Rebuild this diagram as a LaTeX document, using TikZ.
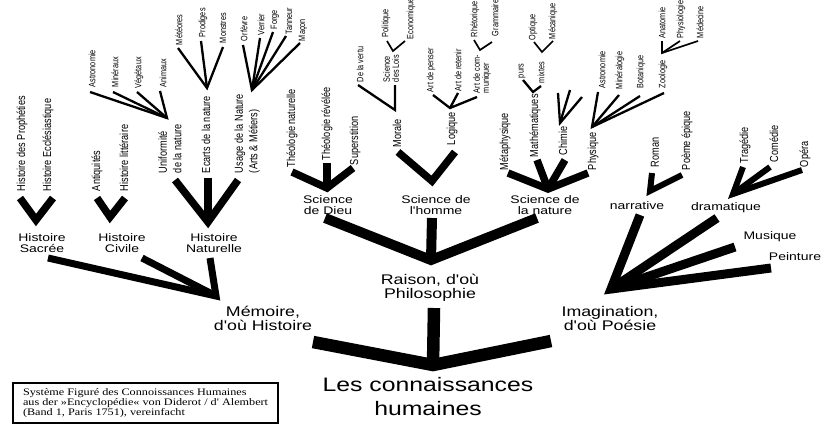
\documentclass[tikz,border=0pt]{standalone}
\usepackage{fontspec}
\setmainfont{Liberation Sans}
\newfontfamily\widesans{Liberation Sans}[FakeStretch=1.27]
\newfontfamily\tallsans{Liberation Sans}[FakeStretch=0.79]
\newfontfamily\wideserif{Liberation Serif}[FakeStretch=1.22]
\begin{document}
\begin{tikzpicture}[x=1pt,y=-1pt,
  every node/.style={inner sep=0pt, outer sep=0pt},
  rootlabel/.style={font=\widesans\fontsize{19.5}{24}\selectfont, align=center},
  facultylabel/.style={font=\widesans\fontsize{14}{14}\selectfont, align=center},
  branchlabel/.style={font=\widesans\fontsize{11}{11}\selectfont, align=center},
  twiglabel/.style={rotate=90, anchor=west, align=left,
    font=\tallsans\fontsize{11.6}{14.5}\selectfont},
  leaflabel/.style={rotate=90, anchor=west, align=left,
    font=\tallsans\fontsize{9.2}{9}\selectfont},
  limb/.style={line width=#1, line join=miter, line cap=butt},
  trunk/.style={limb=12.5pt},
  bough/.style={limb=10pt},
  fanline/.style={limb=9pt},
  histline/.style={limb=7pt},
  forkline/.style={limb=7.5pt},
  artline/.style={limb=6pt},
  twig/.style={limb=2.3pt},
  sprig/.style={limb=1.7pt},
  legendbox/.style={draw, line width=1.3pt, align=left, anchor=north west,
    inner xsep=10pt, minimum height=40pt,
    font=\wideserif\fontsize{10}{10}\selectfont}
]
\useasboundingbox (0,0) rectangle (821,440);
\fill[white] (0,0) rectangle (821,440);

% ---------- root and the three faculties ----------
\node[rootlabel] (root) at (428,397) {Les connaissances\\humaines};
\node[facultylabel] (memoire) at (263,318) {Mémoire,\\d'où Histoire};
\node[facultylabel] (raison) at (430,288) {Raison, d'où\\Philosophie};
\node[facultylabel] (imagination) at (610,318) {Imagination,\\d'où Poésie};

\coordinate (rootTip) at (433,365);
\coordinate (rootL) at (313,342);
\coordinate (rootR) at (551,341);
\coordinate (rootTop) at (434,308);
\draw[trunk] (rootL) -- (rootTip) -- (rootR);
\draw[trunk] (rootTop) -- (rootTip);

% ---------- Mémoire ----------
\node[branchlabel] (hsacree) at (42,243.5) {Histoire\\Sacrée};
\node[branchlabel] (hcivile) at (122,243.5) {Histoire\\Civile};
\node[branchlabel] (hnaturelle) at (214,243.5) {Histoire\\Naturelle};

\coordinate (memTip) at (216,296);
\coordinate (memS) at (48,258);
\coordinate (memC) at (142,258);
\coordinate (memN) at (210,258);
\draw[histline] (memS) -- (memTip) -- (memN);
\draw[histline] (memC) -- (memTip);

% Histoire sacrée
\node[twiglabel] (prophetes) at (22,191) {Histoire des Prophéties};
\node[twiglabel] (ecclesia) at (48,191) {Histoire Ecclésiastique};
\coordinate (sacTip) at (36,220);
\coordinate (sacA) at (20,198);
\coordinate (sacB) at (53,198);
\draw[forkline] (sacA) -- (sacTip) -- (sacB);

% Histoire civile
\node[twiglabel] (antiquites) at (97,191) {Antiquités};
\node[twiglabel] (litteraire) at (124,191) {Histoire littéraire};
\coordinate (civTip) at (110,217);
\coordinate (civA) at (97,198);
\coordinate (civB) at (125,198);
\draw[forkline] (civA) -- (civTip) -- (civB);

% Histoire naturelle
\node[twiglabel] (uniformite) at (170,173) {Uniformité\\de la nature};
\node[twiglabel] (ecarts) at (206,173) {Ecarts de la nature};
\node[twiglabel] (usage) at (247,173) {Usage de la Nature\\(Arts \& Métiers)};
\coordinate (natTip) at (208,222);
\coordinate (natA) at (175,180);
\coordinate (natB) at (208,178);
\coordinate (natC) at (238,180);
\draw[forkline] (natA) -- (natTip) -- (natC);
\draw[forkline] (natB) -- (natTip);

\node[leaflabel] (astroA) at (92,87) {Astronomie};
\node[leaflabel] (mineraux) at (115,87) {Minéraux};
\node[leaflabel] (vegetaux) at (139,88) {Végétaux};
\node[leaflabel] (animaux) at (163,87) {Animaux};
\coordinate (uniTip) at (167,118);
\coordinate (uniA) at (90,92);
\coordinate (uniB) at (113,92);
\coordinate (uniC) at (137,92);
\coordinate (uniD) at (160,91);
\draw[twig] (uniA) -- (uniTip) -- (uniD);
\draw[twig] (uniB) -- (uniTip);
\draw[twig] (uniC) -- (uniTip);

\node[leaflabel] (meteores) at (179,45) {Météores};
\node[leaflabel] (prodiges) at (203,37) {Prodiges};
\node[leaflabel] (monstres) at (223,43) {Monstres};
\coordinate (ecaTip) at (207,88);
\coordinate (ecaA) at (178,48);
\coordinate (ecaB) at (201,41);
\coordinate (ecaC) at (223,47);
\draw[twig] (ecaA) -- (ecaTip) -- (ecaC);
\draw[twig] (ecaB) -- (ecaTip);

\node[leaflabel] (orfevre) at (244,41) {Orfèvre};
\node[leaflabel] (verrier) at (261,35) {Verrier};
\node[leaflabel] (forge) at (275,29) {Forge};
\node[leaflabel] (tanneur) at (289,34) {Tanneur};
\node[leaflabel] (macon) at (303,41) {Maçon};
\coordinate (usaTip) at (252,90);
\coordinate (usaA) at (243,45);
\coordinate (usaB) at (260,38);
\coordinate (usaC) at (273,32);
\coordinate (usaD) at (286,36);
\coordinate (usaE) at (300,43);
\draw[twig] (usaA) -- (usaTip) -- (usaE);
\draw[twig] (usaB) -- (usaTip);
\draw[twig] (usaC) -- (usaTip);
\draw[twig] (usaD) -- (usaTip);

% ---------- Raison ----------
\node[branchlabel] (sdieu) at (328,205.5) {Science\\de Dieu};
\node[branchlabel] (shomme) at (436,205.5) {Science de\\l'homme};
\node[branchlabel] (snature) at (545,205.5) {Science de\\la nature};

\coordinate (raiTip) at (431,260);
\coordinate (raiL) at (325,218);
\coordinate (raiM) at (432,218);
\coordinate (raiR) at (537,218);
\draw[bough] (raiL) -- (raiTip) -- (raiR);
\draw[bough] (raiM) -- (raiTip);

% Science de Dieu
\node[twiglabel] (theonat) at (292,167) {Théologie naturelle};
\node[twiglabel] (theorev) at (327,160) {Théologie révélée};
\node[twiglabel] (superstition) at (355,165) {Superstition};
\coordinate (dieuTip) at (327,188);
\coordinate (dieuA) at (292,172);
\coordinate (dieuB) at (327,163);
\coordinate (dieuC) at (353,168);
\draw[forkline] (dieuA) -- (dieuTip) -- (dieuC);
\draw[forkline] (dieuB) -- (dieuTip);

% Science de l'homme
\node[twiglabel] (morale) at (397,147) {Morale};
\node[twiglabel] (logique) at (452,145) {Logique};
\coordinate (homTip) at (432,181);
\coordinate (homA) at (398,152);
\coordinate (homB) at (455,152);
\draw[forkline] (homA) -- (homTip) -- (homB);

\node[leaflabel] (vertu) at (360,82) {De la vertu};
\node[leaflabel] (lois) at (391,82) {Science\\des Lois};
\coordinate (morTip) at (395,110);
\coordinate (morA) at (358,85);
\coordinate (morB) at (395,85);
\draw[twig] (morA) -- (morTip) -- (morB);

\node[leaflabel] (politique) at (386,37) {Politique};
\node[leaflabel] (economique) at (411,39) {Economique};
\coordinate (loiTip) at (393,51);
\coordinate (loiA) at (387,41);
\coordinate (loiB) at (405,41);
\draw[sprig] (loiA) -- (loiTip) -- (loiB);

\node[leaflabel] (penser) at (431,92) {Art de penser};
\node[leaflabel] (retenir) at (458,91) {Art de retenir};
\node[leaflabel] (communiquer) at (482,93) {Art de com-\\muniquer};
\coordinate (logTip) at (450,108);
\coordinate (logA) at (433,95);
\coordinate (logB) at (458,93);
\coordinate (logC) at (477,97);
\draw[twig] (logA) -- (logTip) -- (logC);
\draw[twig] (logB) -- (logTip);

\node[leaflabel] (rhetorique) at (475,37) {Rhétorique};
\node[leaflabel] (grammaire) at (495,36) {Grammaire};
\coordinate (comTip) at (480,50);
\coordinate (comA) at (474,40);
\coordinate (comB) at (492,42);
\draw[sprig] (comA) -- (comTip) -- (comB);

% Science de la nature
\node[twiglabel] (metaphysique) at (505,170) {Métaphysique};
\node[twiglabel] (mathematiques) at (535,157) {Mathématiques};
\node[twiglabel] (chimie) at (563,155) {Chimie};
\node[twiglabel] (physique) at (593,170) {Physique};
\coordinate (natsTip) at (548,189);
\coordinate (natsA) at (508,173);
\coordinate (natsB) at (537,160);
\coordinate (natsC) at (565,160);
\coordinate (natsD) at (588,173);
\draw[forkline] (natsA) -- (natsTip) -- (natsD);
\draw[forkline] (natsB) -- (natsTip);
\draw[forkline] (natsC) -- (natsTip);

\node[leaflabel] (purs) at (522,78) {purs};
\node[leaflabel] (mixtes) at (541,83) {mixtes};
\coordinate (matTip) at (533,92);
\coordinate (matA) at (523,80);
\coordinate (matB) at (541,86);
\draw[twig] (matA) -- (matTip) -- (matB);

\node[leaflabel] (optique) at (533,40) {Optique};
\node[leaflabel] (mecanique) at (553,39) {Mécanique};
\coordinate (mixTip) at (542,52);
\coordinate (mixA) at (534,42);
\coordinate (mixB) at (553,41);
\draw[sprig] (mixA) -- (mixTip) -- (mixB);

\coordinate (chiTip) at (560,123);
\coordinate (chiA) at (558,93);
\coordinate (chiB) at (570,90);
\coordinate (chiC) at (582,97);
\draw[twig] (chiA) -- (chiTip) -- (chiC);
\draw[twig] (chiB) -- (chiTip);

\node[leaflabel] (astroB) at (602,88) {Astronomie};
\node[leaflabel] (mineralogie) at (620,89) {Minéralogie};
\node[leaflabel] (botanique) at (641,88) {Botanique};
\node[leaflabel] (zoologie) at (663,88) {Zoologie};
\coordinate (phyTip) at (592,127);
\coordinate (phyA) at (598,92);
\coordinate (phyB) at (619,95);
\coordinate (phyC) at (640,96);
\coordinate (phyD) at (664,93);
\draw[twig] (phyA) -- (phyTip) -- (phyD);
\draw[twig] (phyB) -- (phyTip);
\draw[twig] (phyC) -- (phyTip);

\node[leaflabel] (anatomie) at (662,38) {Anatomie};
\node[leaflabel] (physiologie) at (681,38) {Physiologie};
\node[leaflabel] (medecine) at (700,38) {Médecine};
\coordinate (zooTip) at (662,53);
\coordinate (zooA) at (662,41);
\coordinate (zooB) at (680,41);
\coordinate (zooC) at (698,41);
\draw[sprig] (zooA) -- (zooTip) -- (zooC);
\draw[sprig] (zooB) -- (zooTip);

% ---------- Imagination ----------
\node[branchlabel, anchor=base] (narrative) at (637,209) {narrative};
\node[branchlabel, anchor=base] (dramatique) at (726,210) {dramatique};
\node[branchlabel, anchor=base] (musique) at (770,239) {Musique};
\node[branchlabel, anchor=base] (peinture) at (795,260) {Peinture};

\coordinate (imaTip) at (611,289);
\coordinate (imaN) at (640,215);
\coordinate (imaD) at (717,218);
\coordinate (imaM) at (735,247);
\coordinate (imaP) at (771,268);
\draw[fanline] (imaN) -- (imaTip) -- (imaP);
\draw[fanline] (imaD) -- (imaTip);
\draw[fanline] (imaM) -- (imaTip);

\node[twiglabel] (roman) at (655,167) {Roman};
\node[twiglabel] (poeme) at (687,170) {Poème épique};
\coordinate (narTip) at (650,191);
\coordinate (narA) at (652,173);
\coordinate (narB) at (682,175);
\draw[artline] (narA) -- (narTip) -- (narB);

\node[twiglabel] (tragedie) at (745,163) {Tragédie};
\node[twiglabel] (comedie) at (774,162) {Comédie};
\node[twiglabel] (opera) at (805,167) {Opéra};
\coordinate (draTip) at (733,194);
\coordinate (draA) at (743,167);
\coordinate (draB) at (770,167);
\coordinate (draC) at (802,170);
\draw[artline] (draA) -- (draTip) -- (draC);
\draw[artline] (draB) -- (draTip);

% ---------- legend ----------
\node[legendbox] (legend) at (13,383)
  {Système Figuré des Connoissances Humaines\\
   aus der »Encyclopédie« von Diderot / d' Alembert\\
   (Band 1, Paris 1751), vereinfacht};
\end{tikzpicture}
\end{document}
